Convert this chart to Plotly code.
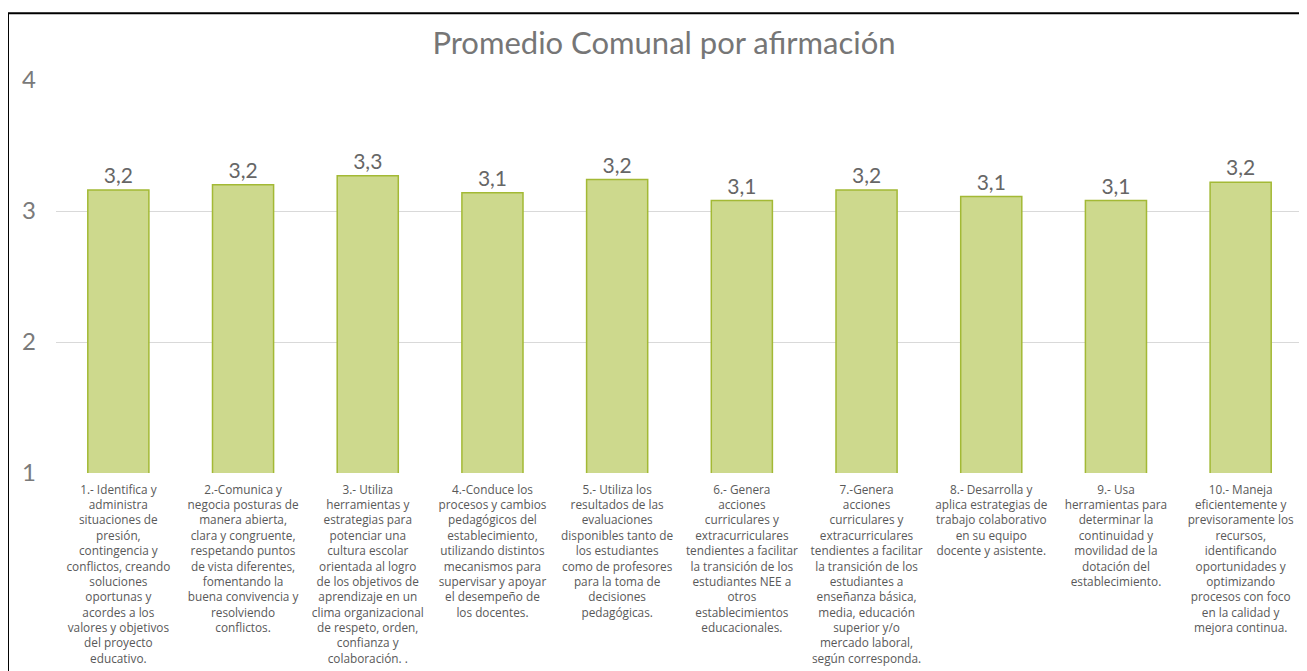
"""
Promedio Comunal por afirmación - gráfico de barras (réplica en Plotly)
"""

import plotly.graph_objects as go

# Datos
afirmaciones = [
    ["1.- Identifica y", "administra", "situaciones de", "presión,", "contingencia y",
     "conflictos, creando", "soluciones", "oportunas y", "acordes a los",
     "valores y objetivos", "del proyecto", "educativo."],
    ["2.-Comunica y", "negocia posturas de", "manera abierta,", "clara y congruente,",
     "respetando puntos", "de vista diferentes,", "fomentando la",
     "buena convivencia y", "resolviendo", "conflictos."],
    ["3.- Utiliza", "herramientas y", "estrategias para", "potenciar una",
     "cultura escolar", "orientada al logro", "de los objetivos de",
     "aprendizaje en un", "clima organizacional", "de respeto, orden,",
     "confianza y", "colaboración. ."],
    ["4.-Conduce los", "procesos y cambios", "pedagógicos del", "establecimiento,",
     "utilizando distintos", "mecanismos para", "supervisar y apoyar",
     "el desempeño de", "los docentes."],
    ["5.- Utiliza los", "resultados de las", "evaluaciones", "disponibles tanto de",
     "los estudiantes", "como de profesores", "para la toma de", "decisiones",
     "pedagógicas."],
    ["6.- Genera", "acciones", "curriculares y", "extracurriculares",
     "tendientes a facilitar", "la transición de los", "estudiantes NEE a", "otros",
     "establecimientos", "educacionales."],
    ["7.-Genera", "acciones", "curriculares y", "extracurriculares",
     "tendientes a facilitar", "la transición de los", "estudiantes a",
     "enseñanza básica,", "media, educación", "superior y/o", "mercado laboral,",
     "según corresponda."],
    ["8.- Desarrolla y", "aplica estrategias de", "trabajo colaborativo", "en su equipo",
     "docente y asistente."],
    ["9.- Usa", "herramientas para", "determinar la", "continuidad y",
     "movilidad de la", "dotación del", "establecimiento."],
    ["10.- Maneja", "eficientemente y", "previsoramente los", "recursos,",
     "identificando", "oportunidades y", "optimizando", "procesos con foco",
     "en la calidad y", "mejora continua."],
]
promedios = [3.16, 3.20, 3.27, 3.14, 3.24, 3.08, 3.16, 3.11, 3.08, 3.22]
y_ticks = [1, 2, 3, 4]

FONT = "Gill Sans MT, Gill Sans, Lato, sans-serif"
FONT_CAT = "Gill Sans MT, Gill Sans, Open Sans, sans-serif"

etiquetas = ["<br>".join(lineas) for lineas in afirmaciones]

fig = go.Figure(
    go.Bar(
        x=etiquetas,
        y=promedios,
        marker=dict(color="#cdd98d", line=dict(color="#a3b935", width=1.5)),
        texttemplate="%{y:.1f}",
        textposition="outside",
        textfont=dict(size=21, color="#666666", family=FONT),
        cliponaxis=False,
        hoverinfo="skip",
    )
)

# el navegador deja 8px de margen en el body -> se compensa aquí
fig.update_layout(
    width=1299,
    height=663,
    separators=",.",
    paper_bgcolor="white",
    plot_bgcolor="white",
    margin=dict(l=48, r=4, t=72, b=198, autoexpand=False),
    bargap=0.51,
    showlegend=False,
    font=dict(family=FONT, color="#595959"),
    title=dict(
        text="Promedio Comunal por afirmación",
        x=0.505,
        xanchor="center",
        y=0.947,
        yanchor="middle",
        font=dict(size=31, color="#767676", family=FONT),
    ),
)

fig.update_xaxes(
    type="category",
    tickangle=0,
    tickfont=dict(size=11.8, color="#595959", family=FONT_CAT),
    showgrid=False,
    showline=False,
    ticks="",
    ticklabelstandoff=8,
    automargin=False,
)

fig.update_yaxes(
    range=[1, 4],
    tickvals=y_ticks,
    ticktext=[str(v) for v in y_ticks],
    tickfont=dict(size=24, color="#7a7a7a", family=FONT),
    showgrid=True,
    gridcolor="#d9d9d9",
    gridwidth=1,
    zeroline=False,
    showline=False,
    ticks="",
    ticklabelstandoff=19,
    automargin=False,
)

# marco exterior del gráfico (recortado en la imagen original)
fig.add_shape(
    type="rect",
    xref="paper", yref="paper",
    x0=-0.0385, x1=1.02, y0=-0.6, y1=1.17,
    line=dict(color="black", width=2),
    fillcolor="rgba(0,0,0,0)",
    layer="above",
)

fig.write_html("out.html")
